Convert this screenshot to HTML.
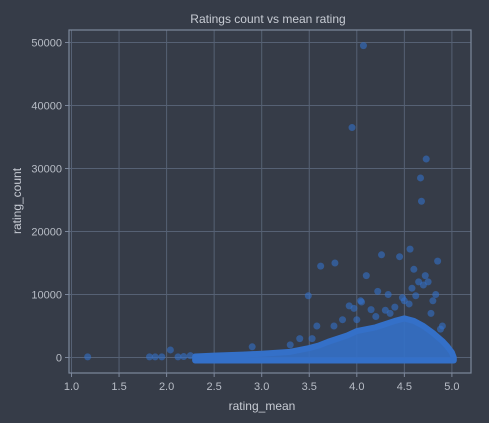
<!DOCTYPE html>
<html><head><meta charset="utf-8"><style>
html,body{margin:0;padding:0;background:#363c48;}
svg{display:block;font-family:"Liberation Sans",sans-serif;}
</style></head><body>
<svg id="chart" width="489" height="423">
<rect width="489" height="423" fill="#363c48"/>
<text x="268" y="23" text-anchor="middle" font-size="12" fill="#c8ccd4">Ratings count vs mean rating</text>
<text x="0" y="0" transform="translate(21,201) rotate(-90)" text-anchor="middle" font-size="12" fill="#c8ccd4">rating_count</text>
<text x="262" y="410" text-anchor="middle" font-size="12" fill="#c8ccd4">rating_mean</text>
<g id="grid"></g><g id="marks"></g><g id="axes"></g>
</svg>
<script>
const xTicks=[1.0,1.5,2.0,2.5,3.0,3.5,4.0,4.5,5.0];
const yTicks=[0,10000,20000,30000,40000,50000];
const envX=[2.3,2.5,2.8,3.0,3.3,3.5,3.6,3.7,3.8,3.9,4.0,4.1,4.2,4.3,4.4,4.5,4.6,4.7,4.8,4.9,4.95,5.0,5.02];
const envY=[150,300,450,600,900,1500,1900,2500,3000,3500,4200,4500,4800,5300,5800,6200,5800,5000,3900,2600,1800,800,0];
const ptX=[1.17,1.82,1.88,1.95,2.04,2.12,2.18,2.25,2.9,3.3,3.4,3.49,3.53,3.58,3.62,3.77,3.76,3.95,4.07,3.92,3.97,4.04,4.1,4.15,4.22,4.26,4.3,4.33,4.45,4.48,4.56,4.6,4.62,4.67,4.68,4.73,4.72,4.75,4.85,4.83,4.5,4.58,4.65,4.7,4.4,4.35,4.2,4.8,4.9,4.88,4.0,3.85,4.05,4.55,4.78];
const ptY=[100,100,100,100,1200,100,150,300,1700,2000,3000,9800,3000,5000,14500,15000,5000,36500,49500,8200,7800,9000,13000,7600,10500,16300,7500,10000,16000,9500,17200,14000,9800,28500,24800,31500,13000,12000,15300,10000,9000,11000,12000,11500,8000,7000,6500,9000,5000,4500,6000,6000,8800,8500,7000];
const L=69,R=471,T=30,B=373;
const sx=v=>71.5+(v-1)*95.1, sy=v=>357.5-v*0.0063;
const NS='http://www.w3.org/2000/svg';
const g=document.getElementById('grid'),m=document.getElementById('marks'),a=document.getElementById('axes');
function el(t,at,p){const e=document.createElementNS(NS,t);for(const k in at)e.setAttribute(k,at[k]);p.appendChild(e);return e;}
xTicks.forEach(t=>{const x=sx(t);
 const l=el('line',{x1:x,x2:x,y1:T,y2:B,stroke:'#566174','stroke-width':1},g);
 
 
 el('line',{x1:x,x2:x,y1:B,y2:B+4,stroke:'#7d889c'},a);
 const tx=el('text',{x:x,y:B+17,'text-anchor':'middle','font-size':11,fill:'#b8bdc6'},a);tx.textContent=t.toFixed(1);
 
 });
yTicks.forEach(t=>{const y=sy(t);
 const l=el('line',{x1:L,x2:R,y1:y,y2:y,stroke:'#566174','stroke-width':1},g);
 
 
 el('line',{x1:L-4,x2:L,y1:y,y2:y,stroke:'#7d889c'},a);
 const tx=el('text',{x:L-7,y:y+4,'text-anchor':'end','font-size':11,fill:'#b8bdc6'},a);tx.textContent=t;
 
 });
const fr=el('rect',{x:L,y:T,width:R-L,height:B-T,fill:'none',stroke:'#7d889c','stroke-width':1.2},a);


let d='M'+sx(envX[0])+','+sy(0);
envX.forEach((x,i)=>{d+=' L'+sx(x)+','+sy(envY[i]);});
d+=' L'+sx(envX[envX.length-1])+','+(sy(0)+3)+' L'+sx(envX[0])+','+(sy(0)+3)+'Z';
const area=el('path',{d:d,fill:'#3470c8','fill-opacity':0.9,stroke:'#3470c8','stroke-width':6,'stroke-linejoin':'round'},m);


ptX.forEach((x,i)=>{const c=el('circle',{cx:sx(x),cy:sy(ptY[i]),r:3.5,fill:'#3470c8','fill-opacity':0.6},m);
 
 });
</script>
</body></html>
